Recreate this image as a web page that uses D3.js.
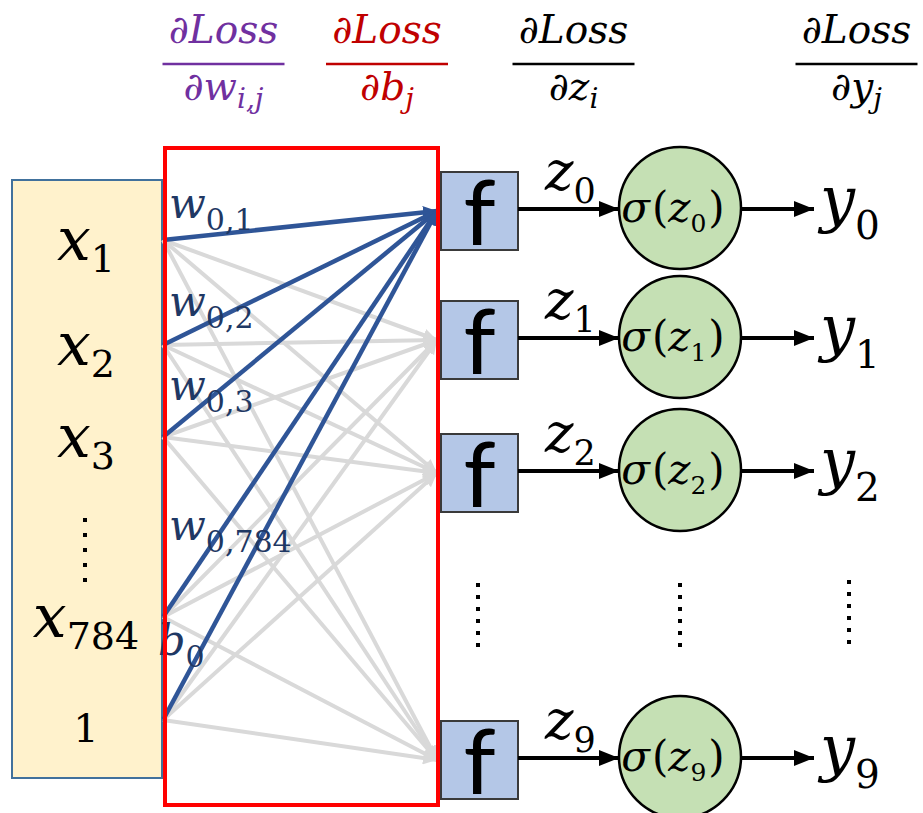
<!DOCTYPE html>
<html><head><meta charset="utf-8">
<script src="https://cdn.jsdelivr.net/npm/d3@7"></script>
<style>html,body{margin:0;padding:0;background:#fff} svg{display:block}</style>
</head><body>
<script>
// ---------- data ----------
const inputBase   = ["x", "x", "x", "x", "1"];
const inputSubs   = ["1", "2", "3", "784", ""];
const outputIdx   = ["0", "1", "2", "9"];
const weightSubs  = ["0,1", "0,2", "0,3", "0,784"];
const biasLabel   = ["b", "0"];
const headerNum   = ["∂Loss", "∂Loss", "∂Loss", "∂Loss"];
const headerDenBase = ["∂w", "∂b", "∂z", "∂y"];
const headerDenSub  = ["i,j", "j", "i", "j"];
const headerColors  = ["#7030a0", "#c00000", "#000000", "#000000"];

// ---------- layout ----------
const W = 923, H = 813;
const SERIF = "'DejaVu Serif', serif";
const SANS = "Lato, 'Open Sans', sans-serif";

const svg = d3.select("body").append("svg").attr("width", W).attr("height", H);

const inY = d3.scaleOrdinal().domain(d3.range(inputBase.length)).range([240, 345, 437, 617, 720]);
const outY = d3.scaleOrdinal().domain(outputIdx).range([211, 340, 473, 760]);
const headerX = d3.scaleOrdinal().domain(d3.range(4)).range([223.5, 387, 573.5, 856.5]);
const wLabelY = d3.scaleOrdinal().domain(d3.range(4)).range([218, 316, 400, 540]);

const col = {inL: 12, inR: 162, portX: 163, redL: 165, redR: 438, fL: 441, fR: 518, cx: 680, r: 61, yArrowEnd: 814, yLabel: 820};

// markers
const defs = svg.append("defs");
function marker(id, color, len, wid) {
  defs.append("marker").attr("id", id).attr("markerUnits", "userSpaceOnUse")
    .attr("viewBox", `0 0 ${len} ${wid}`).attr("refX", len).attr("refY", wid/2)
    .attr("markerWidth", len).attr("markerHeight", wid).attr("orient", "auto")
    .append("path").attr("d", `M0,0L${len},${wid/2}L0,${wid}Z`).attr("fill", color);
}
marker("mBlack", "#000", 20, 16);
marker("mGrey", "#d9d9d9", 14, 13);
marker("mBlue", "#2f5597", 14, 13);

// ---------- headers ----------
const hdr = svg.append("g");
headerNum.forEach((n, i) => {
  const cx = headerX(i), c = headerColors[i];
  hdr.append("text").attr("x", cx).attr("y", 43).attr("text-anchor", "middle")
    .attr("font-family", SERIF).attr("font-style", "italic").attr("font-size", 39).attr("fill", c).text(n);
  hdr.append("line").attr("x1", cx - 61).attr("x2", cx + 61).attr("y1", 64).attr("y2", 64)
    .attr("stroke", c).attr("stroke-width", 2.5);
  const t = hdr.append("text").attr("x", cx).attr("y", 100).attr("text-anchor", "middle")
    .attr("font-family", SERIF).attr("font-style", "italic").attr("font-size", 39).attr("fill", c);
  t.append("tspan").text(headerDenBase[i]);
  t.append("tspan").attr("font-size", 28).attr("dy", 8).text(headerDenSub[i]);
});

// ---------- input box ----------
svg.append("rect").attr("x", col.inL).attr("y", 180).attr("width", col.inR - col.inL).attr("height", 598)
  .attr("fill", "#fff2cc").attr("stroke", "#41719c").attr("stroke-width", 2);

inputBase.forEach((b, i) => {
  const y = inY(i);
  const t = svg.append("text").attr("x", 86).attr("text-anchor", "middle").attr("font-family", SERIF).attr("fill", "#000");
  if (inputSubs[i]) {
    t.attr("y", y + 20).attr("font-size", 60);
    t.append("tspan").attr("font-style", "italic").text(b);
    t.append("tspan").attr("font-size", 38).attr("dy", 12).text(inputSubs[i]);
  } else {
    t.attr("y", y + 22).attr("font-size", 40).text(b);
  }
});
// vertical ellipsis in input box
svg.append("line").attr("x1", 85).attr("x2", 85).attr("y1", 518).attr("y2", 582)
  .attr("stroke", "#000").attr("stroke-width", 4).attr("stroke-dasharray", "4,11");

// ---------- connections ----------
const lines = svg.append("g");
const greyTargets = outputIdx.slice(1);
inputBase.forEach((b, i) => {
  greyTargets.forEach(o => {
    lines.append("line").attr("x1", col.portX).attr("y1", inY(i)).attr("x2", col.redR - 1).attr("y2", outY(o))
      .attr("stroke", "#d9d9d9").attr("stroke-width", 4).attr("marker-end", "url(#mGrey)");
  });
});
inputBase.forEach((b, i) => {
  lines.append("line").attr("x1", col.portX).attr("y1", inY(i)).attr("x2", col.redR - 1).attr("y2", outY(outputIdx[0]))
    .attr("stroke", "#2f5597").attr("stroke-width", 4.5).attr("marker-end", "url(#mBlue)");
});

// weight labels
weightSubs.forEach((s, i) => {
  const t = svg.append("text").attr("x", 169).attr("y", wLabelY(i)).attr("font-family", SERIF)
    .attr("font-size", 43).attr("fill", "#1f3864");
  t.append("tspan").attr("font-style", "italic").text("w");
  t.append("tspan").attr("font-size", 30).attr("dy", 12).text(s);
});
{
  const t = svg.append("text").attr("x", 158).attr("y", 655).attr("font-family", SERIF)
    .attr("font-size", 43).attr("fill", "#1f3864");
  t.append("tspan").attr("font-style", "italic").text(biasLabel[0]);
  t.append("tspan").attr("font-size", 30).attr("dy", 12).text(biasLabel[1]);
}

// red box
svg.append("rect").attr("x", col.redL).attr("y", 148).attr("width", col.redR - col.redL).attr("height", 657)
  .attr("fill", "none").attr("stroke", "#ff0000").attr("stroke-width", 4);

// ---------- output rows ----------
outputIdx.forEach(o => {
  const y = outY(o);
  const g = svg.append("g");
  g.append("rect").attr("x", col.fL).attr("y", y - 39).attr("width", col.fR - col.fL).attr("height", 78)
    .attr("fill", "#b4c7e7").attr("stroke", "#3a3a3a").attr("stroke-width", 2);
  g.append("text").attr("x", (col.fL + col.fR) / 2).attr("y", y + 34).attr("text-anchor", "middle")
    .attr("font-family", SANS).attr("font-size", 92).attr("fill", "#000").text("f");
  const ay = y - 2;
  g.append("line").attr("x1", col.fR).attr("x2", col.cx - col.r).attr("y1", ay).attr("y2", ay)
    .attr("stroke", "#000").attr("stroke-width", 4).attr("marker-end", "url(#mBlack)");
  const zt = g.append("text").attr("x", 545).attr("y", ay - 19).attr("font-family", SERIF).attr("font-size", 54);
  zt.append("tspan").attr("font-style", "italic").text("z");
  zt.append("tspan").attr("font-size", 35).attr("dy", 13).text(o);

  g.append("circle").attr("cx", col.cx).attr("cy", y - 3).attr("r", col.r)
    .attr("fill", "#c5e0b4").attr("stroke", "#000").attr("stroke-width", 2.5);
  const st = g.append("text").attr("x", 673).attr("y", ay + 13).attr("text-anchor", "middle")
    .attr("font-family", SERIF).attr("font-size", 42);
  st.append("tspan").attr("font-style", "italic").text("σ");
  st.append("tspan").attr("dx", 2).text("(");
  st.append("tspan").attr("font-style", "italic").text("z");
  st.append("tspan").attr("font-size", 25).attr("dy", 10).text(o);
  st.append("tspan").attr("dy", -10).attr("dx", 2).text(")");

  g.append("line").attr("x1", col.cx + col.r).attr("x2", col.yArrowEnd).attr("y1", ay).attr("y2", ay)
    .attr("stroke", "#000").attr("stroke-width", 4).attr("marker-end", "url(#mBlack)");
  const yt = g.append("text").attr("x", col.yLabel).attr("y", ay + 11).attr("font-family", SERIF).attr("font-size", 62);
  yt.append("tspan").attr("font-style", "italic").text("y");
  yt.append("tspan").attr("font-size", 39).attr("dy", 19).text(o);
});

// output ellipses
[478, 680, 849].forEach((x, k) => {
  const y0 = k === 2 ? 580 : 583;
  svg.append("line").attr("x1", x).attr("x2", x).attr("y1", y0).attr("y2", y0 + 64)
    .attr("stroke", "#000").attr("stroke-width", 4).attr("stroke-dasharray", "4,8");
});
</script>
</body></html>
